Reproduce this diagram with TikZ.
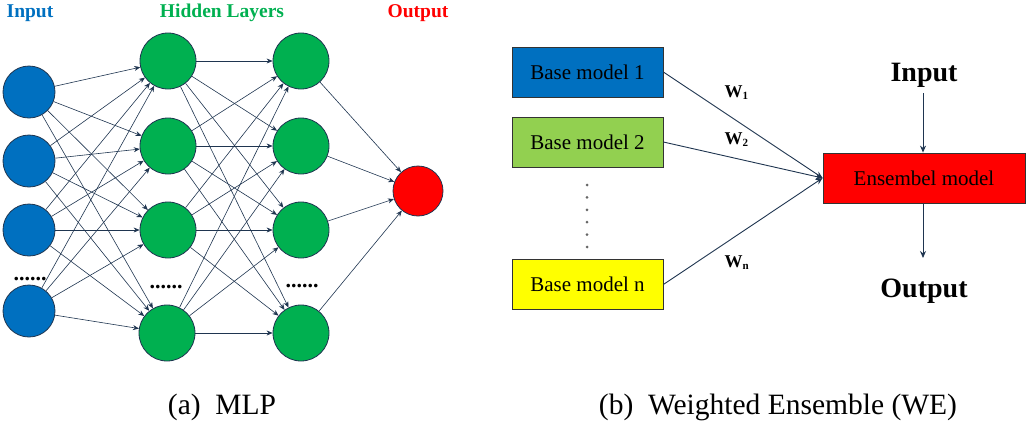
\documentclass[tikz,border=0pt]{standalone}
\usepackage{fontspec}
\setmainfont{Liberation Serif}
\usetikzlibrary{arrows.meta}
\definecolor{nblue}{HTML}{0070C0}
\definecolor{ngreen}{HTML}{00B050}
\definecolor{lgreen}{HTML}{92D050}
\definecolor{nred}{HTML}{FF0000}
\definecolor{nyellow}{HTML}{FFFF00}
\definecolor{edgec}{HTML}{1F3550}
\newcommand{\wsub}[1]{\raisebox{-2pt}{\fontsize{11}{11}\selectfont\bfseries #1}}
\begin{document}
\begin{tikzpicture}[x=1pt,y=-1pt,
  neuron/.style={circle,draw=edgec,line width=0.8pt,inner sep=0pt,minimum size=#1},
  conn/.style={draw=edgec,line width=0.6pt,-{Stealth[length=6pt,width=5pt]}},
  bigconn/.style={draw=edgec,line width=0.9pt,-{Stealth[length=7pt,width=6pt]}},
  modelbox/.style={draw=black!80,line width=0.8pt,minimum width=151pt,minimum height=50pt,inner sep=0pt,font=\fontsize{21}{24}\selectfont},
  toplabel/.style={font=\fontsize{19.5}{22}\selectfont\bfseries,anchor=base},
  dotlabel/.style={font=\fontsize{22}{24}\selectfont\bfseries,anchor=base},
  wlabel/.style={font=\fontsize{18}{20}\selectfont\bfseries,anchor=base west},
  biglabel/.style={font=\fontsize{28}{32}\selectfont\bfseries,anchor=base},
  caption/.style={font=\fontsize{29.5}{34}\selectfont,anchor=base}]
\useasboundingbox (0,0) rectangle (1027,421);

% ---------- MLP ----------
\node[toplabel,text=nblue] (lin) at (30,17) {Input};
\node[toplabel,text=ngreen] (lhid) at (222,17) {Hidden Layers};
\node[toplabel,text=nred] (lout) at (418,17) {Output};

\node[neuron=52pt,fill=nblue] (i1) at (29,92) {};
\node[neuron=52pt,fill=nblue] (i2) at (29,161) {};
\node[neuron=52pt,fill=nblue] (i3) at (29,230) {};
\node[neuron=52pt,fill=nblue] (i4) at (29,311) {};

\node[neuron=56pt,fill=ngreen] (a1) at (168,61) {};
\node[neuron=56pt,fill=ngreen] (a2) at (168,146) {};
\node[neuron=56pt,fill=ngreen] (a3) at (168,230) {};
\node[neuron=56pt,fill=ngreen] (a4) at (167,333) {};

\node[neuron=56pt,fill=ngreen] (b1) at (301,61) {};
\node[neuron=56pt,fill=ngreen] (b2) at (301,146) {};
\node[neuron=56pt,fill=ngreen] (b3) at (301,230) {};
\node[neuron=56pt,fill=ngreen] (b4) at (301,333) {};

\node[neuron=50pt,fill=nred] (o1) at (418,191) {};

\node[dotlabel] (d1) at (30,280) {......};
\node[dotlabel] (d2) at (166,288) {......};
\node[dotlabel] (d3) at (302,287) {......};

\foreach \s in {1,...,4}{
  \foreach \t in {1,...,4}{
    \draw[conn] (i\s) -- (a\t);
    \draw[conn] (a\s) -- (b\t);
  }
  \draw[conn] (b\s) -- (o1);
}

\node[caption] (capa) at (222,414) {(a)\ \ MLP};

% ---------- Weighted ensemble ----------
\node[modelbox,fill=nblue] (m1) at (587.5,72) {Base model 1};
\node[modelbox,fill=lgreen] (m2) at (587.5,142) {Base model 2};
\node[modelbox,fill=nyellow] (mn) at (587.5,284.5) {Base model n};
\node[modelbox,fill=nred,minimum width=202pt] (ens) at (924,178) {Ensembel model};

\foreach \k in {0,...,5}{
  \fill[black!60] (587,{185+\k*12.4}) circle (1.5pt);
}

\draw[bigconn] (m1.east) -- (ens.west);
\draw[bigconn] (m2.east) -- (ens.west);
\draw[bigconn] (mn.east) -- (ens.west);

\node[wlabel] (w1) at (721,97) {W\wsub{1}};
\node[wlabel] (w2) at (721,144) {W\wsub{2}};
\node[wlabel] (wn) at (721,267) {W\wsub{n}};

\node[biglabel] (rin) at (924,81) {Input};
\node[biglabel] (rout) at (924,297) {Output};
\coordinate (rinb) at (923,93);
\coordinate (routt) at (923,258);
\draw[bigconn] (rinb) -- (ens.north -| rinb);
\draw[bigconn] (ens.south -| routt) -- (routt);

\node[caption] (capb) at (778,414) {(b)\ \ Weighted Ensemble (WE)};
\end{tikzpicture}
\end{document}
